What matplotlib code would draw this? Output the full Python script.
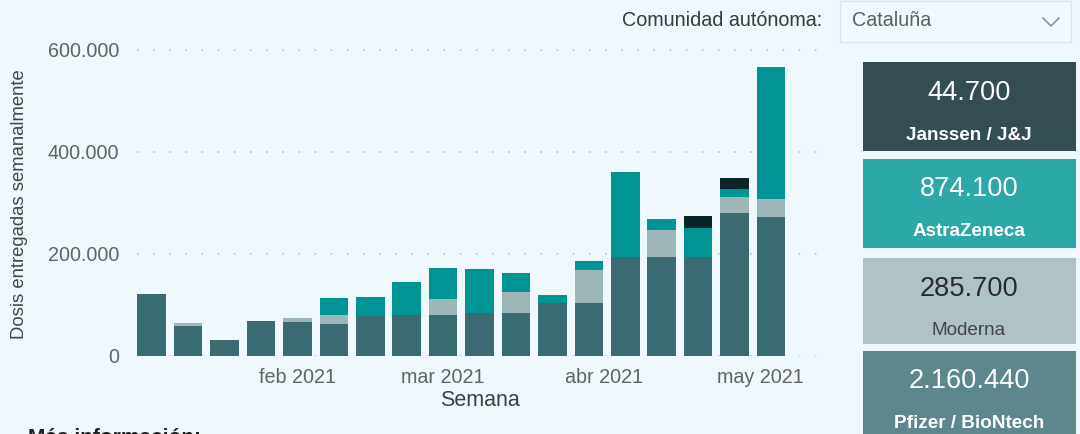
import matplotlib
matplotlib.use("Agg")
import matplotlib.pyplot as plt
import matplotlib.dates as mdates
from matplotlib.patches import Rectangle
from matplotlib.lines import Line2D
import pandas as pd

plt.rcParams['font.family'] = ['Liberation Sans', 'DejaVu Sans']

# ---------------- data ----------------
weeks = ['2021-01-04', '2021-01-11', '2021-01-18', '2021-01-25', '2021-02-01',
         '2021-02-08', '2021-02-15', '2021-02-22', '2021-03-01', '2021-03-08',
         '2021-03-15', '2021-03-22', '2021-03-29', '2021-04-05', '2021-04-12',
         '2021-04-19', '2021-04-26', '2021-05-03']
pfizer = [120400, 58200, 30800, 68000, 65500, 62200, 77800, 79800, 79200,
          83100, 83100, 102700, 102700, 193000, 193000, 193000, 280400, 272600]
moderna = [0, 6500, 0, 0, 9000, 17600, 0, 0, 32700,
           0, 42500, 0, 64700, 0, 52900, 0, 30200, 35300]
astrazeneca = [0, 0, 0, 0, 0, 32700, 37900, 65300, 59500,
               87600, 37300, 17000, 17600, 167800, 22200, 56900, 17000, 258800]
janssen = [0, 0, 0, 0, 0, 0, 0, 0, 0,
           0, 0, 0, 0, 0, 0, 23300, 21400, 0]

month_ticks = ['2021-02-01', '2021-03-01', '2021-04-01', '2021-05-01']
month_labels = ['feb 2021', 'mar 2021', 'abr 2021', 'may 2021']
y_ticks = [0, 200000, 400000, 600000]

box_names = ['Janssen / J&J', 'AstraZeneca', 'Moderna', 'Pfizer / BioNtech']
box_totals = [44700, 874100, 285700, 2160440]

region_label = 'Comunidad autónoma:'
region_value = 'Cataluña'

# ---------------- style ----------------
BG = '#EEF8FD'
C_PF = '#3A6B72'
C_MO = '#9FB6B9'
C_AZ = '#009494'
C_JJ = '#0B2429'
box_colors = ['#344D53', '#2CA8A8', '#AFC3C7', '#5C878C']
box_num_colors = ['white', 'white', '#2A2A2A', 'white']
box_lab_colors = ['white', 'white', '#444444', 'white']
box_lab_weight = ['bold', 'bold', 'normal', 'bold']

W, H = 1080, 434
fig = plt.figure(figsize=(W / 100, H / 100), dpi=100, facecolor=BG)


def fx(px):
    return px / W


def fy(py):
    return 1 - py / H


ymax = 620000
ax_bottom_px = 355.7
px_per_unit = 102 / 200000
ax_top_px = ax_bottom_px - ymax * px_per_unit
ax = fig.add_axes([fx(137), fy(ax_bottom_px), fx(822) - fx(137),
                   (ax_bottom_px - ax_top_px) / H])
ax.set_facecolor(BG)

dates = pd.to_datetime(weeks)
x = mdates.date2num(dates)
width = 5.5

bottom = [0] * len(x)
for vals, col in [(pfizer, C_PF), (moderna, C_MO), (astrazeneca, C_AZ), (janssen, C_JJ)]:
    ax.bar(x, vals, width=width, bottom=bottom, color=col, zorder=3, linewidth=0)
    bottom = [b + v for b, v in zip(bottom, vals)]

x0 = mdates.date2num(pd.Timestamp('2021-01-04')) - 2.83
x1 = mdates.date2num(pd.Timestamp('2021-01-04')) + 128.8
ax.set_xlim(x0, x1)
ax.set_ylim(0, ymax)

for yv in y_ticks:
    ax.axhline(yv, color='#C4C4C4', linewidth=1.4, linestyle=(0, (0.8, 7.5)),
               zorder=1)

for s in ax.spines.values():
    s.set_visible(False)

ax.set_yticks(y_ticks)
ax.set_yticklabels([f"{v:,}".replace(',', '.') for v in y_ticks])
ax.set_xticks(mdates.date2num(pd.to_datetime(month_ticks)))
ax.set_xticklabels(month_labels)
ax.tick_params(axis='both', length=0, labelsize=14.2, labelcolor='#636363')
ax.tick_params(axis='y', pad=13)
ax.tick_params(axis='x', pad=9)

ax.set_xlabel('Semana', fontsize=15.5, color='#404040', labelpad=2)
fig.text(fx(20), fy(204), 'Dosis entregadas semanalmente', rotation=90,
         ha='center', va='center', fontsize=13.3, color='#454545')

# ---------------- right-hand boxes ----------------
box_rows = [(62, 150.5), (158.5, 247.5), (257.5, 344), (350.5, 440)]
for (top, bot), name, tot, col, nc, lc, lw in zip(box_rows, box_names, box_totals,
                                                 box_colors, box_num_colors,
                                                 box_lab_colors, box_lab_weight):
    fig.add_artist(Rectangle((fx(862.5), fy(bot)), fx(1076) - fx(862.5),
                             fy(top) - fy(bot), transform=fig.transFigure,
                             facecolor=col, edgecolor='none'))
    cx = fx(969)
    fig.text(cx, fy(top + 31), f"{tot:,}".replace(',', '.'), ha='center',
             va='center', fontsize=19.6, color=nc)
    fig.text(cx, fy(top + 73), name, ha='center', va='center', fontsize=13.6,
             color=lc, fontweight=lw)

# ---------------- top selector ----------------
fig.text(fx(822), fy(21), region_label, ha='right', va='center', fontsize=14.2,
         color='#3A3A3A')
fig.add_artist(Rectangle((fx(840), fy(42)), fx(1071) - fx(840), fy(1.5) - fy(42),
                         transform=fig.transFigure, facecolor='#F0F9FD',
                         edgecolor='#DCE5E9', linewidth=1))
fig.text(fx(852), fy(21), region_value, ha='left', va='center', fontsize=14.2,
         color='#5E5E5E')
fig.add_artist(Line2D([fx(1043), fx(1051), fx(1059)], [fy(18), fy(26), fy(18)],
                      transform=fig.transFigure, color='#8A8A8A', linewidth=1.1))

# ---------------- bottom partial heading ----------------
fig.text(fx(28), fy(443), 'Más información:', ha='left', va='baseline',
         fontsize=15, fontweight='bold', color='#222222')

fig.savefig('out.png', dpi=100, facecolor=BG)
